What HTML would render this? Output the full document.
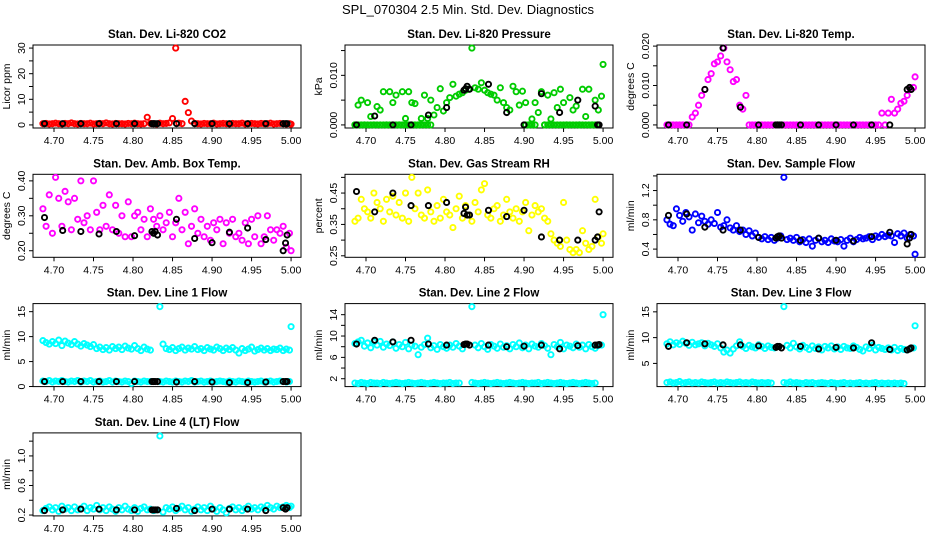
<!DOCTYPE html>
<html><head><meta charset="utf-8"><style>
html,body{margin:0;padding:0;background:#fff;}
svg{display:block;font-family:"Liberation Sans",sans-serif;}
</style></head><body>
<svg id="chart" width="936" height="540" viewBox="0 0 936 540">
<text x="468" y="14" text-anchor="middle" font-size="13">SPL_070304  2.5 Min. Std. Dev. Diagnostics</text>
</svg>
<script>
const xVals = [4.686,4.690,4.694,4.698,4.702,4.706,4.710,4.714,4.718,4.722,
4.726,4.730,4.734,4.738,4.742,4.746,4.750,4.754,4.758,4.762,
4.766,4.770,4.774,4.778,4.782,4.786,4.790,4.794,4.798,4.802,
4.806,4.810,4.814,4.818,4.822,4.826,4.830,4.834,4.838,4.842,
4.846,4.850,4.854,4.858,4.862,4.866,4.870,4.874,4.878,4.882,
4.886,4.890,4.894,4.898,4.902,4.906,4.910,4.914,4.918,4.922,
4.926,4.930,4.934,4.938,4.942,4.946,4.950,4.954,4.958,4.962,
4.966,4.970,4.974,4.978,4.982,4.986,4.990,4.994,4.998,5.000];
const blackX = [4.688,4.711,4.734,4.757,4.779,4.802,4.824,4.826,4.828,4.831,4.855,4.878,4.900,4.922,4.945,4.968,4.990,4.993,4.995];
const xTicks = [4.70,4.75,4.80,4.85,4.90,4.95,5.00];
const xTickLabels = ["4.70","4.75","4.80","4.85","4.90","4.95","5.00"];

const co2 = [0.5,0.6,0.4,0.5,0.7,0.5,0.4,0.6,0.5,0.8,0.5,0.4,0.6,0.5,0.5,0.7,0.4,0.5,0.6,0.5,
0.8,0.5,0.4,0.6,0.5,0.5,0.4,0.6,0.5,0.7,0.5,0.4,0.5,3.0,0.6,0.5,0.4,0.7,0.5,0.6,
0.8,2.5,30,0.7,0.5,9.2,4.8,1.5,0.6,0.5,0.4,0.6,0.5,0.5,0.7,0.4,0.5,0.6,0.5,0.4,
0.6,0.5,0.5,0.7,0.4,0.5,0.6,0.5,0.4,0.6,0.5,0.5,0.7,0.4,0.5,0.6,0.5,0.4,0.5,0.3];
const co2Black = [0.5,0.5,0.5,0.5,0.5,0.5,0.5,0.5,0.5,0.5,0.5,0.5,0.5,0.5,0.5,0.5,0.5,0.5,0.5];

const press = [0,0.0040,0.0050,0,0.0045,0.0017,0,0.0037,0.0030,0.0067,
0,0.0067,0.0045,0.0060,0,0.0067,0.0013,0.0067,0.0045,0.0043,
0,0.0013,0.0060,0.0013,0.0050,0.0020,0.0035,0.0073,0.0028,0.0045,
0.0055,0.0082,0.0058,0.0062,0.0065,0.0070,0.0072,0.0155,0.0075,0.0072,
0.0085,0.0070,0.0065,0.0062,0.0060,0.0050,0.0075,0.0045,0.0035,0.0030,
0.0078,0.0067,0.0040,0.0068,0.0045,0,0.0012,0.0045,0.0025,0.0067,
0,0.0060,0.0012,0.0065,0.0035,0.0072,0.0045,0,0.0055,0.0030,
0.0038,0,0.0072,0.0017,0.0072,0,0.0050,0.0030,0.0058,0.0122];
const pressZero = [0,0,0,0,0,0,0,0,0,0,0,0,0,0,0,0,0,0,0,0,0,0,0,0,0,null,null,null,null,null,null,null,null,null,null,null,null,null,null,null,null,null,null,null,null,null,null,null,null,null,null,null,null,null,0,0,0,0,null,null,0,0,0,0,0,0,0,0,0,0,0,0,0,0,0,0,0,0,null,null];
const pressBlack = [0,0.0018,0,0,0.002,0.0035,0.007,0.0073,0.0078,0.0072,0.0082,0.0025,0,0.0063,0.0025,0.005,0.0038,0,0];

const temp = [0,0,0,0,0,0,0,0,0.002,0.003,
0.005,0.0075,0.009,0.0115,0.013,0.0155,0.016,0.0175,0.0195,0.016,
0.014,0.011,0.0115,0.005,0.004,0.0075,0,0,0,0,
0,0,0,0,0,0,0,0,0,0, 0,0,0,0,0,0,0,0,0,0, 0,0,0,0,0,0,0,0,0,0,
0,0,0,0,0,0,0,0,0.003,0,
0.003,0.0065,0.003,0.004,0.0055,0.006,0.0075,0.009,0.0095,0.0122];
const tempBlack = [0,0,0.009,0.0195,0.0045,0,0,0,0,0,0,0,0,0,0,0,0.009,0.0095,0.009];

const amb = [0.32,0.27,0.36,0.25,0.41,0.35,0.27,0.37,0.34,0.26,
0.35,0.29,0.40,0.28,0.30,0.26,0.40,0.31,0.26,0.33,
0.27,0.36,0.26,0.33,0.25,0.30,0.24,0.34,0.24,0.30,
0.31,0.26,0.29,0.24,0.32,0.29,0.27,0.30,0.26,0.28,
0.31,0.24,0.28,0.35,0.26,0.31,0.22,0.27,0.32,0.25,
0.29,0.24,0.27,0.23,0.28,0.26,0.29,0.22,0.28,0.25,
0.29,0.24,0.25,0.23,0.28,0.22,0.29,0.24,0.30,0.22,
0.24,0.30,0.26,0.23,0.26,0.25,0.27,0.21,0.25,0.20];
const ambBlack = [0.295,0.258,0.255,0.248,0.255,0.243,0.255,0.25,0.255,0.245,0.29,0.235,0.223,0.253,0.265,0.232,0.20,0.222,0.245];

const rh = [0.36,0.37,0.43,0.40,0.39,0.37,0.45,0.42,0.40,0.36,
0.43,0.39,0.44,0.38,0.42,0.37,0.45,0.36,0.50,0.40,
0.45,0.38,0.37,0.46,0.39,0.36,0.41,0.37,0.43,0.39,
0.38,0.34,0.40,0.44,0.37,0.41,0.38,0.36,0.42,0.39,
0.46,0.48,0.38,0.37,0.40,0.41,0.36,0.38,0.43,0.39,
0.37,0.40,0.36,0.39,0.42,0.33,0.38,0.41,0.39,0.40,
0.37,0.36,0.32,0.30,0.29,0.28,0.42,0.30,0.27,0.26,
0.27,0.26,0.33,0.29,0.27,0.28,0.43,0.31,0.29,0.32];
const rhBlack = [0.455,0.39,0.45,0.41,0.41,0.42,0.385,0.405,0.38,0.38,0.395,0.375,0.395,0.31,0.30,0.30,0.30,0.31,0.39];

const sample = [0.80,0.74,0.72,0.95,0.86,0.78,0.90,0.84,0.66,0.88,
0.76,0.85,0.78,0.74,0.80,0.75,0.90,0.70,0.72,0.80,
0.69,0.66,0.72,0.64,0.66,0.60,0.65,0.58,0.62,0.56,
0.54,0.57,0.53,0.56,0.52,0.55,0.58,1.38,0.53,0.55,
0.52,0.56,0.50,0.53,0.49,0.54,0.44,0.52,0.55,0.50,
0.52,0.49,0.54,0.51,0.50,0.53,0.44,0.52,0.55,0.50,
0.53,0.56,0.54,0.55,0.57,0.53,0.58,0.56,0.60,0.57,
0.59,0.58,0.49,0.61,0.58,0.62,0.55,0.60,0.58,0.33];
const sampleBlack = [0.86,0.88,0.70,0.66,0.66,0.56,0.55,0.57,0.58,0.55,0.52,0.55,0.52,0.51,0.57,0.63,0.47,0.55,0.60];

const line1High = [9.2,8.8,8.5,9.0,8.6,9.3,8.2,9.1,8.7,8.4,
9.0,8.5,8.1,8.6,8.3,8.0,8.4,7.6,7.9,7.4,
7.8,7.3,8.0,7.6,7.9,7.4,8.1,7.7,7.5,8.2,
7.6,7.2,7.9,7.5,7.3,null,null,16.0,8.5,7.6,
7.4,7.8,7.2,7.6,7.9,7.3,7.7,7.5,8.0,7.4,
7.6,7.2,7.8,7.5,7.3,7.9,7.6,7.2,7.7,7.4,
7.8,7.3,6.7,7.6,7.2,7.5,7.9,7.1,7.4,7.7,
7.3,7.6,7.2,7.5,7.4,7.7,7.2,7.5,7.3,12.0];
const line1Low = [1.1,1.0,1.2,0.9,1.1,1.0,1.2,1.0,0.9,1.1,
1.0,1.2,0.9,1.1,1.0,1.2,0.9,1.0,1.1,0.9,
1.0,1.2,0.9,1.1,1.0,0.9,1.1,1.0,0.6,1.1,
1.0,0.9,1.1,1.0,1.0,null,null,1.0,0.9,1.1,
1.0,0.9,1.1,1.0,0.9,1.1,1.0,1.2,0.9,1.0,
1.1,0.9,1.0,1.1,0.9,1.0,1.1,1.0,0.9,1.1,
1.0,0.9,1.1,1.0,0.9,1.1,1.0,0.9,1.0,1.1,
0.9,1.0,1.1,0.9,1.0,1.1,1.0,0.9,1.0,null];
const line1Black = [1.0,1.0,1.0,1.0,1.0,1.0,1.0,1.0,1.0,1.0,0.9,1.0,0.9,0.8,0.8,0.9,1.0,1.0,1.0];

const line2High = [8.6,8.9,9.2,8.1,8.7,7.8,8.9,8.3,9.0,7.9,
8.5,8.2,8.9,7.7,8.4,8.0,8.8,7.6,8.3,8.1,
6.5,7.9,8.4,9.6,7.8,8.2,7.5,8.4,8.0,7.7,
8.3,7.9,8.6,8.1,7.6,null,null,15.5,8.3,7.8,
8.6,8.0,7.5,8.4,8.1,7.7,8.5,7.9,8.2,7.6,
8.4,8.0,8.7,7.8,8.3,7.6,8.5,8.1,7.9,8.6,
8.2,7.7,6.5,8.4,8.0,8.8,7.6,8.3,8.1,7.8,
8.5,7.9,8.3,7.6,8.4,8.0,7.7,8.2,8.3,14.0];
const line2Low = [1.2,1.1,1.3,1.2,1.1,1.3,1.2,1.2,1.1,1.3,
1.2,1.1,1.2,1.3,1.2,1.1,1.2,1.3,1.2,1.1,
1.2,1.3,1.2,1.1,1.2,1.3,1.2,1.1,1.2,1.2,
1.3,1.1,1.2,1.2,null,null,null,1.3,1.2,1.1,
1.2,1.3,1.2,1.1,1.2,1.3,1.2,1.1,1.2,1.3,
1.2,1.1,1.2,1.3,1.2,1.1,1.2,1.2,1.3,1.1,
1.2,1.3,1.2,1.1,1.2,1.3,1.2,1.1,1.2,1.3,
1.2,1.1,1.2,1.3,1.2,1.1,1.2,null,null,null];
const line2Black = [8.5,9.2,8.9,9.2,8.5,8.3,8.4,8.5,8.5,8.3,8.3,8.0,8.1,8.3,7.6,8.2,8.3,8.3,8.4];

const line3High = [8.8,9.2,8.6,9.0,8.7,9.3,8.9,8.5,9.1,8.6,
8.8,9.0,8.4,8.9,8.6,8.3,8.8,8.0,7.2,7.6,
7.0,7.8,8.4,9.2,8.3,7.9,8.5,8.2,8.0,8.6,
8.3,7.9,8.4,8.1,8.0,null,null,16.0,8.5,8.0,
8.9,8.2,7.8,8.5,8.1,7.7,8.4,7.9,8.2,7.6,
8.3,8.0,8.4,7.8,8.2,7.7,8.3,8.0,7.9,8.4,
8.1,7.7,7.4,8.2,7.9,8.5,7.6,8.1,7.9,7.7,
8.0,7.6,8.1,7.5,7.9,7.7,7.6,7.9,8.0,12.3];
const line3Low = [1.3,1.4,1.2,1.3,1.5,1.2,1.3,1.4,1.2,1.3,
1.2,1.4,1.3,1.2,1.3,1.4,1.2,1.3,1.2,1.4,
1.3,1.2,1.3,1.4,1.2,1.3,1.2,1.4,1.3,1.2,
1.3,1.2,1.3,1.2,null,null,null,1.3,1.2,1.4,
1.2,1.3,1.2,1.1,1.3,1.2,1.3,1.1,1.2,1.3,
1.2,1.1,1.3,1.2,1.1,1.2,1.3,1.1,1.2,1.1,
1.2,1.3,1.1,1.2,1.1,1.2,1.3,1.1,1.2,1.1,
1.2,1.1,1.2,1.1,1.2,1.1,null,null,null,null];
const line3Black = [8.3,9.0,8.8,8.6,8.6,8.4,8.1,8.3,8.3,8.0,8.3,7.8,8.1,8.0,9.0,7.7,7.6,7.8,8.0];

const line4 = [0.26,0.29,0.31,0.27,0.30,0.25,0.32,0.28,0.30,0.26,
0.31,0.27,0.29,0.32,0.26,0.30,0.28,0.33,0.27,0.30,
0.26,0.31,0.28,0.25,0.30,0.27,0.32,0.28,0.26,0.30,
0.25,0.29,0.31,0.27,0.28,0.26,0.27,1.27,0.24,0.30,
0.28,0.31,0.26,0.29,0.32,0.27,0.30,0.25,0.28,0.31,
0.27,0.30,0.26,0.32,0.28,0.25,0.30,0.27,0.23,0.29,
0.31,0.27,0.30,0.26,0.29,0.32,0.28,0.30,0.27,0.31,
0.29,0.33,0.30,0.28,0.32,0.30,0.31,0.33,0.30,0.32];
const line4Black = [0.26,0.27,0.28,0.28,0.27,0.27,0.27,0.27,0.27,0.27,0.29,0.26,0.28,0.28,0.28,0.26,0.30,0.28,0.30];

const panelTitles = ["Stan. Dev. Li-820 CO2","Stan. Dev. Li-820 Pressure","Stan. Dev. Li-820 Temp.","Stan. Dev. Amb. Box Temp.","Stan. Dev. Gas Stream RH","Stan. Dev. Sample Flow","Stan. Dev. Line 1 Flow","Stan. Dev. Line 2 Flow","Stan. Dev. Line 3 Flow","Stan. Dev. Line 4 (LT) Flow"];
const yTitles = ["Licor ppm","kPa","degrees C","degrees C","percent","ml/min","ml/min","ml/min","ml/min","ml/min"];
const yTicks = [[0,5,10,15,20,25,30],[0,0.005,0.010,0.015],[0,0.005,0.010,0.015,0.020],[0.20,0.25,0.30,0.35,0.40],[0.25,0.30,0.35,0.40,0.45,0.50],[0.4,0.6,0.8,1.0,1.2,1.4],[0,5,10,15],[2,4,6,8,10,12,14],[5,10,15],[0.2,0.4,0.6,0.8,1.0,1.2]];
const yTickLabels = [["0","","10","","20","","30"],["0.000","","0.010",""],["0.000","","0.010","","0.020"],["0.20","","0.30","","0.40"],["0.25","","0.35","","0.45",""],["0.4","","0.8","","1.2",""],["0","5","10","15"],["2","","6","","10","","14"],["5","10","15"],["0.2","","0.6","","1.0",""]];
const yLims = [[0,30],[0,0.0155],[0,0.0195],[0.19,0.41],[0.255,0.50],[0.33,1.38],[0.6,16],[1.1,15.5],[1.1,16],[0.23,1.27]];
const seriesList = [[co2],[press,pressZero],[temp],[amb],[rh],[sample],[line1High,line1Low],[line2High,line2Low],[line3High,line3Low],[line4]];
const blackList = [co2Black,pressBlack,tempBlack,ambBlack,rhBlack,sampleBlack,line1Black,line2Black,line3Black,line4Black];
const colors = ["#ff0000","#00cc00","#ff00ff","#ff00ff","#ffff00","#0000ff","#00ffff","#00ffff","#00ffff","#00ffff"];

const NS = "http://www.w3.org/2000/svg";
const svg = document.getElementById("chart");
function mk(tag, attrs, parent){const e=document.createElementNS(NS,tag);for(const k in attrs)e.setAttribute(k,attrs[k]);(parent||svg).appendChild(e);return e;}
const xMin = Math.min(...xVals), xMax = Math.max(...xVals);
const xLo = xMin-(xMax-xMin)*0.04, xHi = xMax+(xMax-xMin)*0.04;

for(let p=0;p<10;p++){
  const c=p%3, r=Math.floor(p/3);
  const L=33+312*c, W=268, T=45+129.3*r, H=83;
  const g=mk("g",{});
  
  
  const [ya,yb]=yLims[p]; const yLo=ya-(yb-ya)*0.04, yHi=yb+(yb-ya)*0.04;
  const xs=v=>L+(v-xLo)/(xHi-xLo)*W;
  const ys=v=>T+H-(v-yLo)/(yHi-yLo)*H;
  const box=mk("rect",{x:L,y:T,width:W,height:H,fill:"none",stroke:"#000","stroke-width":1},g);
  
  
  const tt=mk("text",{x:L+W/2,y:T-7,"text-anchor":"middle","font-size":11.5,"font-weight":"bold"},g);
  tt.textContent=panelTitles[p];
  
  
  const yt=mk("text",{transform:`translate(${L-23},${T+H/2}) rotate(-90)`,"text-anchor":"middle","font-size":10.5},g);
  yt.textContent=yTitles[p];
  
  
  xTicks.forEach((v,i)=>{
    const x=xs(v);
    mk("line",{x1:x,x2:x,y1:T+H,y2:T+H+4,stroke:"#000"},g);
    const t=mk("text",{x:x,y:T+H+16,"text-anchor":"middle","font-size":10.5},g);
    t.textContent=xTickLabels[i];
    
    
  });
  yTicks[p].forEach((v,i)=>{
    const y=ys(v);
    mk("line",{x1:L-4,x2:L,y1:y,y2:y,stroke:"#000"},g);
    if(yTickLabels[p][i]){
      const t=mk("text",{transform:`translate(${L-8},${y}) rotate(-90)`,"text-anchor":"middle","font-size":10.5},g);
      t.textContent=yTickLabels[p][i];
      
      
    }
  });
  seriesList[p].forEach(arr=>{
    arr.forEach((v,i)=>{
      if(v===null||v===undefined||i>=xVals.length) return;
      const pt=mk("circle",{cx:xs(xVals[i]),cy:ys(v),r:2.6,fill:"none",stroke:colors[p],"stroke-width":1.9},g);
      
      
    });
  });
  blackList[p].forEach((v,i)=>{
    const pt=mk("circle",{cx:xs(blackX[i]),cy:ys(v),r:2.6,fill:"none",stroke:"#000","stroke-width":1.9},g);
    
    
  });
}
</script>
</body></html>
